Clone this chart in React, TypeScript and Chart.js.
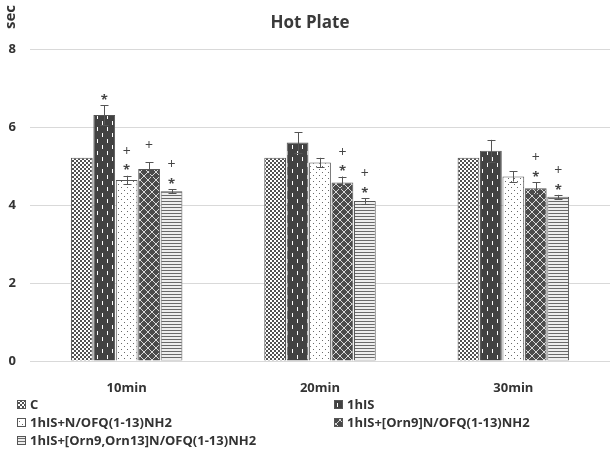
import React, { useEffect, useRef } from "react";
import { Chart, registerables } from "chart.js";
Chart.register(...registerables);

const categories = ["10min", "20min", "30min"];
const seriesNames = [
  "C",
  "1hIS",
  "1hIS+N/OFQ(1-13)NH2",
  "1hIS+[Orn9]N/OFQ(1-13)NH2",
  "1hIS+[Orn9,Orn13]N/OFQ(1-13)NH2",
];
const cValues = [5.21, 5.21, 5.21];
const hisValues = [6.31, 5.6, 5.39];
const nofqValues = [4.64, 5.09, 4.73];
const orn9Values = [4.92, 4.58, 4.43];
const orn913Values = [4.35, 4.1, 4.21];
const cErrors = [0, 0, 0];
const hisErrors = [0.25, 0.27, 0.28];
const nofqErrors = [0.11, 0.12, 0.13];
const orn9Errors = [0.17, 0.15, 0.15];
const orn913Errors = [0.05, 0.07, 0.05];
const cMarks = ["", "", ""];
const hisMarks = ["*", "", ""];
const nofqMarks = ["+*", "", ""];
const orn9Marks = ["+", "+*", "+*"];
const orn913Marks = ["+*", "+*", "+*"];
const yMin = 0;
const yMax = 8;
const yStep = 2;
const titleText = "Hot Plate";
const yAxisTitle = "sec";

const FONT = "'Open Sans', 'DejaVu Sans', sans-serif";

function makeTile(w: number, h: number, draw: (c: CanvasRenderingContext2D) => void) {
  const cv = document.createElement("canvas");
  cv.width = w;
  cv.height = h;
  const c = cv.getContext("2d")!;
  draw(c);
  return cv;
}

function makePatterns(ctx: CanvasRenderingContext2D) {
  const checker = makeTile(4, 4, (c) => {
    c.fillStyle = "#ffffff";
    c.fillRect(0, 0, 4, 4);
    c.fillStyle = "#505050";
    c.fillRect(0, 0, 2, 2);
    c.fillRect(2, 2, 2, 2);
  });
  const dashes = makeTile(10, 12, (c) => {
    c.fillStyle = "#424242";
    c.fillRect(0, 0, 10, 12);
    c.fillStyle = "#ffffff";
    c.fillRect(2, 1, 1, 4);
    c.fillRect(7, 7, 1, 4);
  });
  const dots = makeTile(6, 6, (c) => {
    c.fillStyle = "#ffffff";
    c.fillRect(0, 0, 6, 6);
    c.fillStyle = "#6a6a6a";
    c.fillRect(1, 1, 1, 1);
    c.fillRect(4, 4, 1, 1);
  });
  const lattice = makeTile(8, 8, (c) => {
    c.fillStyle = "#4a4a4a";
    c.fillRect(0, 0, 8, 8);
    c.strokeStyle = "#d8d8d8";
    c.lineWidth = 1;
    c.beginPath();
    c.moveTo(0, 0);
    c.lineTo(8, 8);
    c.moveTo(8, 0);
    c.lineTo(0, 8);
    c.stroke();
  });
  const stripes = makeTile(4, 3, (c) => {
    c.fillStyle = "#eeeeee";
    c.fillRect(0, 0, 4, 3);
    c.fillStyle = "#6a6a6a";
    c.fillRect(0, 0, 4, 1);
  });
  return [checker, dashes, dots, lattice, stripes].map(
    (t) => ctx.createPattern(t, "repeat") as CanvasPattern
  );
}

export default function App() {
  const ref = useRef<HTMLCanvasElement | null>(null);

  useEffect(() => {
    const canvas = ref.current!;
    const ctx = canvas.getContext("2d")!;
    const patterns = makePatterns(ctx);
    const values = [cValues, hisValues, nofqValues, orn9Values, orn913Values];
    const errors = [cErrors, hisErrors, nofqErrors, orn9Errors, orn913Errors];
    const marks = [cMarks, hisMarks, nofqMarks, orn9Marks, orn913Marks];

    const extras = {
      id: "extras",
      afterDatasetsDraw(chart: any) {
        const c = chart.ctx as CanvasRenderingContext2D;
        const ys = chart.scales.y;
        c.save();
        c.strokeStyle = "#555555";
        c.lineWidth = 1;
        values.forEach((vals, i) => {
          const meta = chart.getDatasetMeta(i);
          vals.forEach((v, j) => {
            const e = errors[i][j];
            const bar = meta.data[j];
            const x = Math.round(bar.x) + 0.5;
            const top = ys.getPixelForValue(v + e);
            if (e > 0) {
              const bot = ys.getPixelForValue(v - e);
              c.beginPath();
              c.moveTo(x, bot);
              c.lineTo(x, top);
              c.moveTo(x - 4, Math.round(top) + 0.5);
              c.lineTo(x + 4, Math.round(top) + 0.5);
              c.moveTo(x - 4, Math.round(bot) + 0.5);
              c.lineTo(x + 4, Math.round(bot) + 0.5);
              c.stroke();
            }
            const m = marks[i][j];
            c.fillStyle = "#444444";
            c.textAlign = "center";
            c.textBaseline = "middle";
            if (m.includes("*")) {
              c.font = `bold 13px ${FONT}`;
              c.fillText("*", bar.x, top - 5);
            }
            if (m.includes("+")) {
              c.font = `14px ${FONT}`;
              c.fillText("+", bar.x, top - (m.includes("*") ? 24 : 16));
            }
          });
        });
        c.restore();
      },
      afterDraw(chart: any) {
        const c = chart.ctx as CanvasRenderingContext2D;
        c.save();
        c.fillStyle = "#3a3a3a";
        c.font = `bold 17px ${FONT}`;
        c.textAlign = "center";
        c.textBaseline = "middle";
        c.fillText(titleText, 310, 23);
        c.save();
        c.translate(11, 17);
        c.rotate(-Math.PI / 2);
        c.font = `bold 15px ${FONT}`;
        c.fillStyle = "#333333";
        c.fillText(yAxisTitle, 0, 0);
        c.restore();
        const slots = [
          [17, 404],
          [334, 404],
          [17, 422],
          [334, 422],
          [17, 440],
        ];
        c.font = `bold 13px ${FONT}`;
        c.textAlign = "left";
        seriesNames.forEach((name, i) => {
          const [lx, ly] = slots[i];
          c.fillStyle = patterns[i];
          c.fillRect(lx, ly - 4, 9, 9);
          c.strokeStyle = "#555555";
          c.lineWidth = 1;
          c.strokeRect(lx + 0.5, ly - 3.5, 8, 8);
          c.fillStyle = "#333333";
          c.fillText(name, lx + 13, ly + 1);
        });
        c.restore();
      },
    };

    const chart = new Chart(canvas, {
      type: "bar",
      data: {
        labels: categories,
        datasets: values.map((vals, i) => ({
          label: seriesNames[i],
          data: vals,
          backgroundColor: patterns[i],
          borderColor: "#555555",
          borderWidth: 1,
          categoryPercentage: 0.58,
          barPercentage: 0.97,
        })),
      },
      options: {
        responsive: false,
        animation: false,
        layout: { padding: { top: 49, left: 0, right: 1, bottom: 60 } },
        plugins: {
          legend: { display: false },
          title: { display: false },
          tooltip: { enabled: false },
        },
        scales: {
          x: {
            grid: { display: false },
            border: { display: false },
            ticks: {
              color: "#333333",
              font: { family: FONT, size: 13, weight: "bold" },
              padding: 11,
            },
            afterFit: (s: any) => {
              s.height = 31;
            },
          },
          y: {
            min: yMin,
            max: yMax,
            ticks: {
              stepSize: yStep,
              color: "#333333",
              font: { family: FONT, size: 13, weight: "bold" },
              padding: 14,
            },
            grid: { color: "#d9d9d9", drawTicks: false },
            border: { display: false },
            afterFit: (s: any) => {
              s.width = 30;
            },
          },
        },
      },
      plugins: [extras],
    } as any);
    return () => chart.destroy();
  }, []);

  return (
    <canvas
      ref={ref}
      width={611}
      height={452}
      style={{ position: "absolute", left: 0, top: 0, width: 611, height: 452 }}
    />
  );
}
